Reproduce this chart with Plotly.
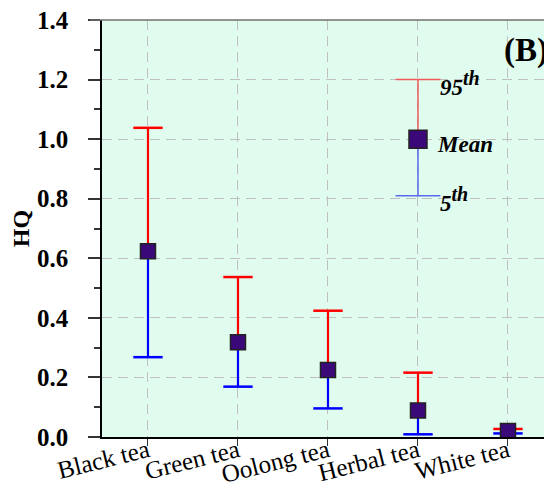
import plotly.graph_objects as go

categories = ["Black tea", "Green tea", "Oolong tea", "Herbal tea", "White tea"]
hq_mean = [0.624, 0.318, 0.225, 0.089, 0.020]
hq_p95 = [1.038, 0.537, 0.424, 0.216, 0.027]
hq_p5 = [0.268, 0.169, 0.096, 0.009, 0.012]

legend_x = 3
legend_mean = 1.0
legend_p95 = 1.2
legend_p5 = 0.81

y_ticks = [0.0, 0.2, 0.4, 0.6, 0.8, 1.0, 1.2, 1.4]

xs = list(range(len(categories)))

def seg(x_list, y_from, y_to):
    sx, sy = [], []
    for x, a, b in zip(x_list, y_from, y_to):
        sx += [x, x, None]
        sy += [a, b, None]
    return sx, sy

fig = go.Figure()

serif = "Liberation Serif, Times New Roman, serif"

# main upper/lower bars
ux, uy = seg(xs, hq_mean, hq_p95)
lx, ly = seg(xs, hq_mean, hq_p5)
fig.add_trace(go.Scatter(x=ux, y=uy, mode="lines", line=dict(color="#FF0000", width=2.2), hoverinfo="skip"))
fig.add_trace(go.Scatter(x=lx, y=ly, mode="lines", line=dict(color="#0000FF", width=2.2), hoverinfo="skip"))
fig.add_trace(go.Scatter(x=xs, y=hq_p95, mode="markers",
                         marker=dict(symbol="line-ew", size=21, line=dict(color="#FF0000", width=2.5))))
fig.add_trace(go.Scatter(x=xs, y=hq_p5, mode="markers",
                         marker=dict(symbol="line-ew", size=21, line=dict(color="#0000FF", width=2.5))))
fig.add_trace(go.Scatter(x=xs, y=hq_mean, mode="markers",
                         marker=dict(symbol="square", size=15, color="#3A0878",
                                     line=dict(color="#222222", width=1.5))))

# legend key
gx, gy = seg([legend_x], [legend_mean], [legend_p95])
hx, hy = seg([legend_x], [legend_mean], [legend_p5])
fig.add_trace(go.Scatter(x=gx, y=gy, mode="lines", line=dict(color="#F05A5A", width=1.5), hoverinfo="skip"))
fig.add_trace(go.Scatter(x=hx, y=hy, mode="lines", line=dict(color="#5A6AF0", width=1.5), hoverinfo="skip"))
fig.add_trace(go.Scatter(x=[legend_x], y=[legend_p95], mode="markers",
                         marker=dict(symbol="line-ew", size=32, line=dict(color="#F05A5A", width=1.5))))
fig.add_trace(go.Scatter(x=[legend_x], y=[legend_p5], mode="markers",
                         marker=dict(symbol="line-ew", size=32, line=dict(color="#5A6AF0", width=1.5))))
fig.add_trace(go.Scatter(x=[legend_x], y=[legend_mean], mode="markers",
                         marker=dict(symbol="square", size=18, color="#3A0878",
                                     line=dict(color="#222222", width=1.5))))

lab_font = dict(family=serif, size=23, color="black")
sup = "<sup><span style='font-size:20px'>th</span></sup>"
fig.add_annotation(x=legend_x, y=legend_p95, xref="x", yref="y", text=f"<b><i>95{sup}</i></b>",
                   showarrow=False, xanchor="left", yanchor="middle", xshift=20, yshift=-4, font=lab_font)
fig.add_annotation(x=legend_x, y=legend_mean, xref="x", yref="y", text="<b><i>Mean</i></b>",
                   showarrow=False, xanchor="left", yanchor="middle", xshift=17, yshift=-5, font=lab_font)
fig.add_annotation(x=legend_x, y=legend_p5, xref="x", yref="y", text=f"<b><i>5{sup}</i></b>",
                   showarrow=False, xanchor="left", yanchor="middle", xshift=20, yshift=-4, font=lab_font)
fig.add_annotation(x=0.995, y=0.975, xref="paper", yref="paper", text="<b>(B)</b>",
                   showarrow=False, xanchor="right", yanchor="top",
                   font=dict(family=serif, size=33, color="black"))

# top border
fig.add_shape(type="line", xref="paper", yref="paper", x0=-0.027, x1=1, y0=1, y1=1,
              line=dict(color="#707070", width=1.5))

grid = dict(gridcolor="#C0C0C0", gridwidth=1.3, griddash="10px,6px")

# the page body has an 8px default margin, so the figure is 8px smaller
fig.update_layout(
    width=544, height=490,
    margin=dict(l=94, r=0, t=12, b=61),
    paper_bgcolor="white", plot_bgcolor="#E0FCEE",
    showlegend=False,
    font=dict(family=serif, color="black"),
    xaxis=dict(range=[-0.511, 4.489], tickvals=xs, ticktext=categories, tickangle=-14,
               ticks="outside", ticklen=7, tickwidth=1.3, tickcolor="#333",
               showline=True, linecolor="black", linewidth=1.5,
               tickfont=dict(family=serif, size=25, color="black"),
               ticklabelstandoff=-19, automargin=False,
               zeroline=False, **grid),
    yaxis=dict(range=[0, 1.4], tickvals=y_ticks, ticktext=[f"<b>{v:.1f}</b>" for v in y_ticks],
               ticks="outside", ticklen=12, tickwidth=1.5, tickcolor="#333",
               showline=True, linecolor="black", linewidth=1.5,
               tickfont=dict(family=serif, size=25, color="black"),
               ticklabelstandoff=15, automargin=False, ticklabeloverflow="allow",
               minor=dict(dtick=0.1, ticks="outside", ticklen=6, tickcolor="#333", showgrid=False),
               title=dict(text="<b>HQ</b>", font=dict(family=serif, size=24, color="black"), standoff=8),
               zeroline=False, **grid),
)

fig.write_html("out.html")
